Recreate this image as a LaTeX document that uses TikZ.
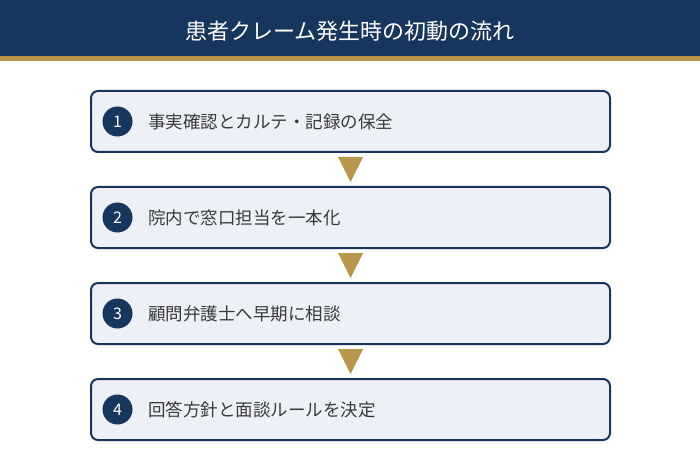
\documentclass[tikz,border=0pt]{standalone}
\usepackage{fontspec}
\setmainfont{Noto Sans CJK JP}
\usetikzlibrary{positioning}
\usetikzlibrary{calc}
\definecolor{navy}{HTML}{17365D}
\definecolor{gold}{HTML}{B8964A}
\definecolor{boxfill}{HTML}{EDF0F7}
\definecolor{textgray}{HTML}{3A3A3A}
\tikzstyle{stepbox} = [draw=navy, line width=2pt, fill=boxfill, rounded corners=7pt,
minimum width=519pt, minimum height=61pt, inner sep=0pt]
\tikzstyle{tri} = [fill=gold]

\begin{document}
\begin{tikzpicture}[x=1pt, y=-1pt,
        num/.style={circle, fill=navy, text=white, minimum size=30pt, inner sep=0pt,
            font=\fontsize{16}{16}\selectfont},
        label/.style={anchor=west, text=textgray, inner sep=0pt,
            font=\fontsize{17.5}{20}\selectfont}]
        \useasboundingbox (0,0) rectangle (700,470);
        %% Header
        \fill [navy] (0,0) rectangle (700,56);
        \fill [gold] (0,56) rectangle (700,61);
        \node [text=white, font=\fontsize{22}{24}\selectfont] at (350,31) (title) {患者クレーム発生時の初動の流れ};
        %% Steps
        \node [stepbox] at (350.5,121.5) (S1) {};
        \node [stepbox] at (350.5,217.5) (S2) {};
        \node [stepbox] at (350.5,313.5) (S3) {};
        \node [stepbox] at (350.5,409.5) (S4) {};
        \node [num] at (117.5,121.5) (N1) {1};
        \node [num] at (117.5,217.5) (N2) {2};
        \node [num] at (117.5,313.5) (N3) {3};
        \node [num] at (117.5,409.5) (N4) {4};
        \node [label] at (148,121.5) (L1) {事実確認とカルテ・記録の保全};
        \node [label] at (148,217.5) (L2) {院内で窓口担当を一本化};
        \node [label] at (148,313.5) (L3) {顧問弁護士へ早期に相談};
        \node [label] at (148,409.5) (L4) {回答方針と面談ルールを決定};
        %% Arrows
        \fill [tri] ($(S1.south)+(-12.5,4)$) -- ($(S1.south)+(12.5,4)$) -- ($(S2.north)+(0,-4)$) -- cycle;
        \fill [tri] ($(S2.south)+(-12.5,4)$) -- ($(S2.south)+(12.5,4)$) -- ($(S3.north)+(0,-4)$) -- cycle;
        \fill [tri] ($(S3.south)+(-12.5,4)$) -- ($(S3.south)+(12.5,4)$) -- ($(S4.north)+(0,-4)$) -- cycle;
    \end{tikzpicture}
\end{document}
